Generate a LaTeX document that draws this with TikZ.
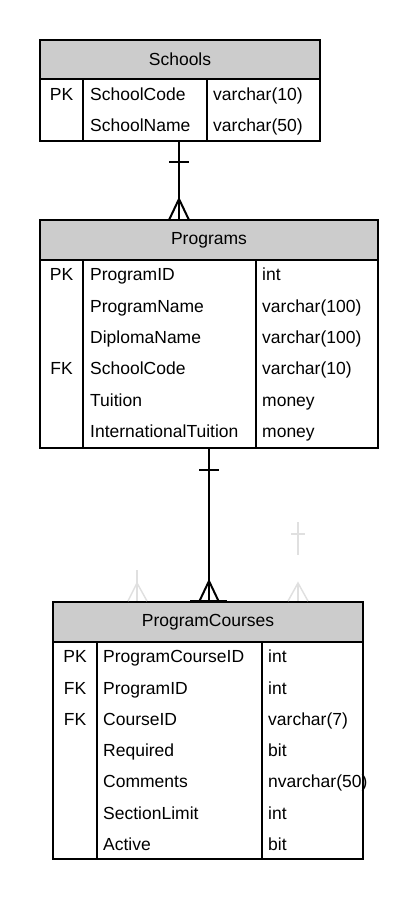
\documentclass[tikz,border=0pt]{standalone}
\usepackage{fontspec}
\setmainfont{Liberation Sans}
\begin{document}
\begin{tikzpicture}[x=1pt,y=-1pt,
  tablebox/.style={draw, line width=2.4pt, inner sep=0pt, outer sep=0pt, anchor=north west},
  headbox/.style={draw, line width=2pt, fill=black!20, inner sep=0pt, outer sep=0pt, anchor=north west,
    font=\fontsize{17.5}{20}\selectfont},
  divider/.style={line width=2pt},
  cell/.style={anchor=base west, inner sep=0pt, font=\fontsize{17.5}{20}\selectfont},
  keycell/.style={anchor=base, inner sep=0pt, font=\fontsize{17.5}{20}\selectfont},
  rel/.style={line width=2pt},
  ghost/.style={line width=1.5pt, draw=black!12}
]
\useasboundingbox (0,0) rectangle (418,900);

% ---------- Schools ----------
\node[tablebox, minimum width=280pt, minimum height=101pt] (schools) at (40,40) {};
\node[headbox, minimum width=280pt, minimum height=39pt] (schoolsH) at (40,40) {Schools};
\coordinate (sd1) at (83,79); \coordinate (sd2) at (207,79);
\draw[divider] (sd1) -- (sd1 |- schools.south);
\draw[divider] (sd2) -- (sd2 |- schools.south);
\node[keycell] (s-k1) at (61.5,100.5) {PK};
\node[cell] (s-n1) at (90,100.5) {SchoolCode};
\node[cell] (s-t1) at (213,100.5) {varchar(10)};
\node[cell] (s-n2) at (90,131) {SchoolName};
\node[cell] (s-t2) at (213,131) {varchar(50)};

% ---------- Programs ----------
\node[tablebox, minimum width=338pt, minimum height=228pt] (programs) at (40,220) {};
\node[headbox, minimum width=338pt, minimum height=40pt] (programsH) at (40,220) {Programs};
\coordinate (pd1) at (83,260); \coordinate (pd2) at (256,260);
\draw[divider] (pd1) -- (pd1 |- programs.south);
\draw[divider] (pd2) -- (pd2 |- programs.south);
\foreach \k/\n/\t/\y [count=\i] in {PK/ProgramID/int/273, /ProgramName/varchar(100)/305,
  /DiplomaName/varchar(100)/336, FK/SchoolCode/varchar(10)/367, /Tuition/money/399,
  /InternationalTuition/money/430}{
  \node[keycell] (p-k\i) at (61.5,\y+7) {\k};
  \node[cell] (p-n\i) at (90,\y+7) {\n};
  \node[cell] (p-t\i) at (262,\y+7) {\t};
}

% ---------- ProgramCourses ----------
\node[tablebox, minimum width=310pt, minimum height=257pt] (courses) at (53,602) {};
\node[headbox, minimum width=310pt, minimum height=40pt] (coursesH) at (53,602) {ProgramCourses};
\coordinate (cd1) at (97,642); \coordinate (cd2) at (262,642);
\draw[divider] (cd1) -- (cd1 |- courses.south);
\draw[divider] (cd2) -- (cd2 |- courses.south);
\foreach \k/\n/\t/\y [count=\i] in {PK/ProgramCourseID/int/655, FK/ProgramID/int/687,
  FK/CourseID/varchar(7)/718, /Required/bit/749, /Comments/nvarchar(50)/780,
  /SectionLimit/int/812, /Active/bit/843}{
  \node[keycell] (c-k\i) at (75,\y+7) {\k};
  \node[cell] (c-n\i) at (103,\y+7) {\n};
  \node[cell] (c-t\i) at (268,\y+7) {\t};
}

% ---------- Relationship Schools -> Programs ----------
\coordinate (r1top) at (179,141);
\coordinate (r1bot) at (179,220);
\draw[rel] (r1top) -- (r1bot);
\draw[rel] (169,162) -- (189,162);
\draw[rel] (169,220) -- (179,199) -- (189,220);

% ---------- Relationship Programs -> ProgramCourses ----------
\coordinate (r2top) at (209,448);
\coordinate (r2bot) at (209,602);
\draw[rel] (r2top) -- (r2bot);
\draw[rel] (199,470) -- (219,470);
\draw[rel] (199,602) -- (209,581) -- (219,602);
\draw[rel] (190,601) -- (227,601);

% ---------- faint ghost marks ----------
\draw[ghost] (137,570) -- (137,601);
\draw[ghost] (128,601) -- (137,583) -- (147,601);
\draw[ghost] (298,522) -- (298,555);
\draw[ghost] (291,534) -- (305,534);
\draw[ghost] (288,601) -- (298,583) -- (308,601);
\draw[ghost] (298,585) -- (298,601);
\end{tikzpicture}
\end{document}
